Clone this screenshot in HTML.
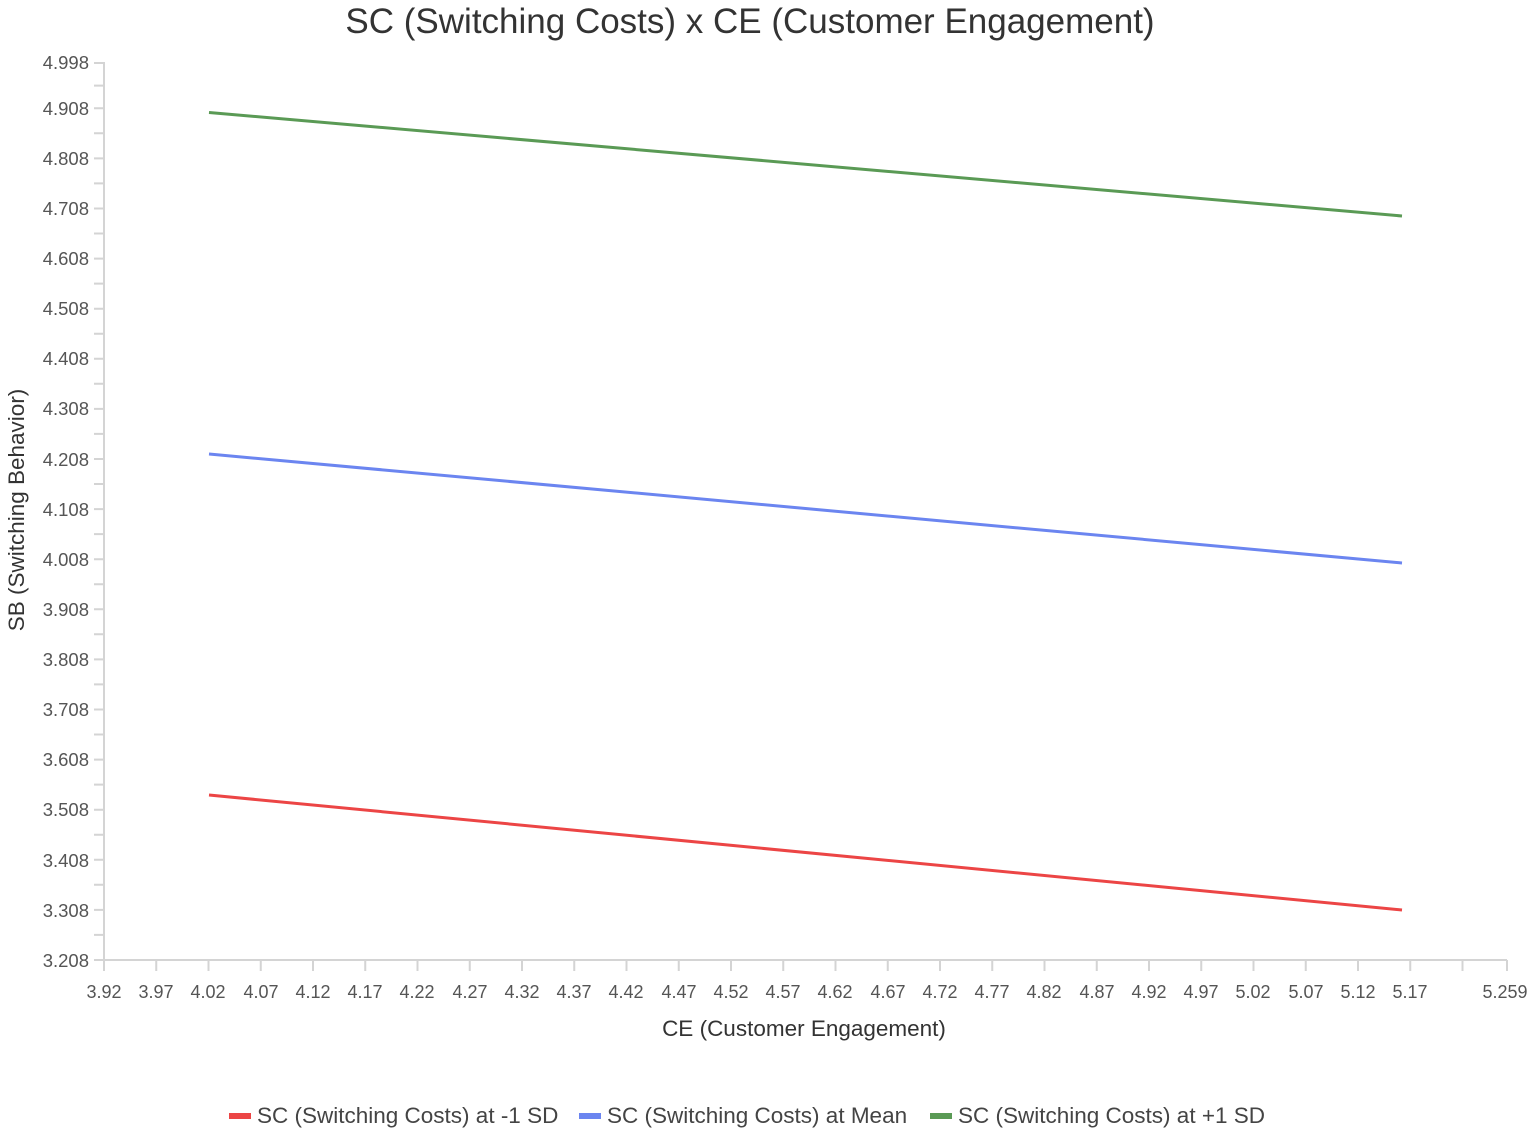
<!DOCTYPE html><html><head><meta charset="utf-8"><style>body{margin:0;background:#fff}svg{display:block}text{font-family:"Liberation Sans",sans-serif}</style></head><body>
<svg width="1535" height="1136" xmlns="http://www.w3.org/2000/svg">
<text x="750" y="33" font-size="35" fill="#333" text-anchor="middle">SC (Switching Costs) x CE (Customer Engagement)</text>
<g stroke="#d4d4d4" stroke-width="2">
<line x1="104" y1="62" x2="104" y2="961"/><line x1="103" y1="960" x2="1507" y2="960"/>
<path d="M94 63h10M94 108.3h10M94 158.4h10M94 208.5h10M94 258.6h10M94 308.7h10M94 358.8h10M94 408.9h10M94 459h10M94 509.1h10M94 559.2h10M94 609.3h10M94 659.4h10M94 709.5h10M94 759.6h10M94 809.7h10M94 859.8h10M94 909.9h10M94 960h10"/>
<path d="M94 85.6h10M94 133.3h10M94 183.4h10M94 233.5h10M94 283.6h10M94 333.7h10M94 383.8h10M94 433.9h10M94 484h10M94 534.1h10M94 584.2h10M94 634.3h10M94 684.4h10M94 734.5h10M94 784.6h10M94 834.7h10M94 884.8h10M94 934.9h10"/>
<path d="M104 960v11M156.25 960v11M208.5 960v11M260.75 960v11M313 960v11M365.25 960v11M417.5 960v11M469.75 960v11M522 960v11M574.25 960v11M626.5 960v11M678.75 960v11M731 960v11M783.25 960v11M835.5 960v11M887.75 960v11M940 960v11M992.25 960v11M1044.5 960v11M1096.75 960v11M1149 960v11M1201.25 960v11M1253.5 960v11M1305.75 960v11M1358 960v11M1410.25 960v11M1462.5 960v11M1507 960v11"/>
</g>
<g font-size="18.5" fill="#555" text-anchor="end">
<text x="89" y="69">4.998</text><text x="89" y="115">4.908</text><text x="89" y="165">4.808</text><text x="89" y="215">4.708</text><text x="89" y="265">4.608</text><text x="89" y="315">4.508</text><text x="89" y="365">4.408</text><text x="89" y="415">4.308</text><text x="89" y="466">4.208</text><text x="89" y="516">4.108</text><text x="89" y="566">4.008</text><text x="89" y="616">3.908</text><text x="89" y="666">3.808</text><text x="89" y="716">3.708</text><text x="89" y="766">3.608</text><text x="89" y="816">3.508</text><text x="89" y="867">3.408</text><text x="89" y="917">3.308</text><text x="89" y="967">3.208</text>
</g>
<g font-size="18" fill="#555" text-anchor="middle">
<text x="104" y="998">3.92</text><text x="156" y="998">3.97</text><text x="208" y="998">4.02</text><text x="261" y="998">4.07</text><text x="313" y="998">4.12</text><text x="365" y="998">4.17</text><text x="417" y="998">4.22</text><text x="470" y="998">4.27</text><text x="522" y="998">4.32</text><text x="574" y="998">4.37</text><text x="626" y="998">4.42</text><text x="679" y="998">4.47</text><text x="731" y="998">4.52</text><text x="783" y="998">4.57</text><text x="835" y="998">4.62</text><text x="888" y="998">4.67</text><text x="940" y="998">4.72</text><text x="992" y="998">4.77</text><text x="1044" y="998">4.82</text><text x="1097" y="998">4.87</text><text x="1149" y="998">4.92</text><text x="1201" y="998">4.97</text><text x="1253" y="998">5.02</text><text x="1306" y="998">5.07</text><text x="1358" y="998">5.12</text><text x="1410" y="998">5.17</text><text x="1505" y="998">5.259</text>
</g>
<text x="804" y="1036" font-size="22.5" fill="#333" text-anchor="middle">CE (Customer Engagement)</text>
<text transform="translate(24,510) rotate(-90)" font-size="22.5" fill="#333" text-anchor="middle">SB (Switching Behavior)</text>
<g stroke-width="3" fill="none">
<line x1="209" y1="112.5" x2="1402" y2="216" stroke="#5a9a55"/>
<line x1="209" y1="454" x2="1402" y2="563" stroke="#6b85f0"/>
<line x1="209" y1="795" x2="1402" y2="910" stroke="#ec4545"/>
</g>
<g font-size="22.5" fill="#444">
<rect x="229" y="1113" width="22" height="6" fill="#ec4545"/><text x="257" y="1123">SC (Switching Costs) at -1 SD</text>
<rect x="579" y="1113" width="22" height="6" fill="#6b85f0"/><text x="607" y="1123">SC (Switching Costs) at Mean</text>
<rect x="930" y="1113" width="22" height="6" fill="#5a9a55"/><text x="958" y="1123">SC (Switching Costs) at +1 SD</text>
</g>
</svg></body></html>
